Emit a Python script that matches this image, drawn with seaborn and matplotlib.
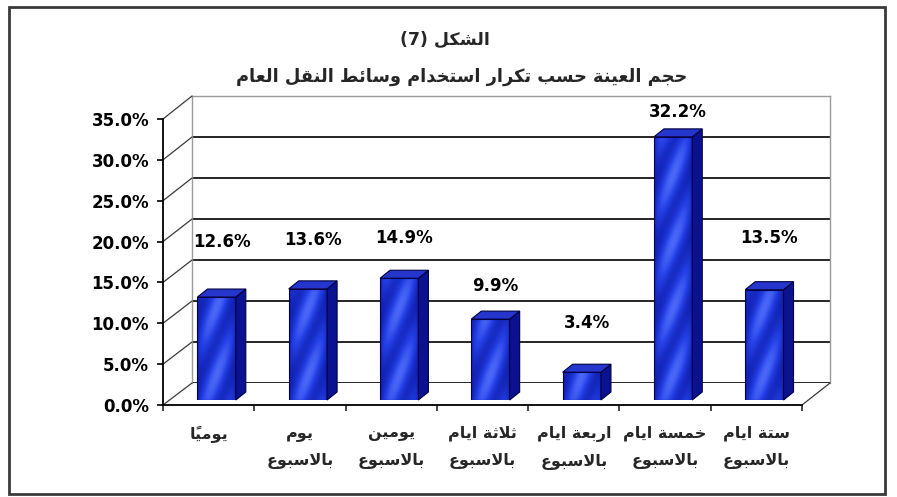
import numpy as np
import pandas as pd
import matplotlib
matplotlib.use('Agg')
import matplotlib.pyplot as plt
import seaborn as sns
from matplotlib.colors import LinearSegmentedColormap
from matplotlib.patches import Polygon, Rectangle
from matplotlib.lines import Line2D

# ---------------------------------------------------------------------------
# data
# ---------------------------------------------------------------------------
CATEGORIES = ['يومياً', 'يوم\nبالاسبوع', 'يومين\nبالاسبوع', 'ثلاثة ايام\nبالاسبوع',
              'اربعة ايام\nبالاسبوع', 'خمسة ايام\nبالاسبوع', 'ستة ايام\nبالاسبوع']
VALUES = [12.6, 13.6, 14.9, 9.9, 3.4, 32.2, 13.5]
Y_TICKS = [0, 5, 10, 15, 20, 25, 30, 35]
TITLE = 'الشكل (7)'
SUBTITLE = 'حجم العينة حسب تكرار استخدام وسائط النقل العام'
LABEL_LIFT_PX = [55, 49, 40, 33, 49, 25, 52]   # where excel put the value labels

W, H = 897, 497

# ---------------------------------------------------------------------------
# tiny arabic shaper (matplotlib has no bidi / joining)
# ---------------------------------------------------------------------------
DUAL = {'\u0626': 0xFE89, '\u0628': 0xFE8F, '\u062A': 0xFE95, '\u062B': 0xFE99,
        '\u062C': 0xFE9D, '\u062D': 0xFEA1, '\u062E': 0xFEA5, '\u0633': 0xFEB1,
        '\u0634': 0xFEB5, '\u0635': 0xFEB9, '\u0636': 0xFEBD, '\u0637': 0xFEC1,
        '\u0638': 0xFEC5, '\u0639': 0xFEC9, '\u063A': 0xFECD, '\u0641': 0xFED1,
        '\u0642': 0xFED5, '\u0643': 0xFED9, '\u0644': 0xFEDD, '\u0645': 0xFEE1,
        '\u0646': 0xFEE5, '\u0647': 0xFEE9, '\u064A': 0xFEF1}
RIGHT = {'\u0622': 0xFE81, '\u0623': 0xFE83, '\u0624': 0xFE85, '\u0625': 0xFE87,
         '\u0627': 0xFE8D, '\u0629': 0xFE93, '\u062F': 0xFEA9, '\u0630': 0xFEAB,
         '\u0631': 0xFEAD, '\u0632': 0xFEAF, '\u0648': 0xFEED, '\u0649': 0xFEEF}
LAM_ALEF = {'\u0622': 0xFEF5, '\u0623': 0xFEF7, '\u0625': 0xFEF9, '\u0627': 0xFEFB}


def is_mark(ch):
    return '\u064B' <= ch <= '\u0652'


def shape_word(word):
    units = []   # [kind, base code, marks]
    chars = list(word)
    i = 0
    while i < len(chars):
        ch = chars[i]
        if is_mark(ch) and units:
            units[-1][2] += ch
        elif ch == '\u0644' and i + 1 < len(chars) and chars[i + 1] in LAM_ALEF:
            units.append(['R', LAM_ALEF[chars[i + 1]], ''])
            i += 1
        elif ch in DUAL:
            units.append(['D', DUAL[ch], ''])
        elif ch in RIGHT:
            units.append(['R', RIGHT[ch], ''])
        else:
            units.append(['U', ch, ''])
        i += 1

    glyphs = []
    for k, (kind, base, marks) in enumerate(units):
        prev_d = k > 0 and units[k - 1][0] == 'D'
        next_j = k + 1 < len(units) and units[k + 1][0] in ('D', 'R')
        if kind == 'D':
            idx = {(False, False): 0, (True, False): 1, (False, True): 2, (True, True): 3}[(prev_d, next_j)]
            glyphs.append(chr(base + idx) + marks)
        elif kind == 'R':
            glyphs.append(chr(base + (1 if prev_d else 0)) + marks)
        else:
            glyphs.append(base + marks)
    return ''.join(reversed(glyphs))


def ar(text):
    out = []
    for line in text.split('\n'):
        toks = [shape_word(t) if any('\u0600' <= c <= '\u06FF' for c in t) else t
                for t in line.split(' ')]
        out.append(' '.join(reversed(toks)))
    return '\n'.join(out)


def box(x0, y0, x1, y1):
    return [x0 / W, 1 - y1 / H, (x1 - x0) / W, (y1 - y0) / H]


# ---------------------------------------------------------------------------
# figure
# ---------------------------------------------------------------------------
sns.set_theme(style='white')
plt.rcParams['font.family'] = ['DejaVu Sans']
plt.rcParams['font.weight'] = 'bold'

fig = plt.figure(figsize=(W / 100, H / 100), dpi=100)
fig.patch.set_facecolor('white')

ax_back = fig.add_axes(box(192, 96, 830, 383), zorder=0)
ax = fig.add_axes(box(163, 119, 802, 405), zorder=1)
ax_bar = fig.add_axes(box(171, 114, 810, 400), zorder=2)

# back wall with gridlines
ax_back.set_xlim(0, 1)
ax_back.set_ylim(0, 35)
for v in Y_TICKS[:-1]:
    ax_back.axhline(v, color='#151515', lw=1.3)
for s in ['left', 'right', 'top']:
    ax_back.spines[s].set_color('#9a9a9a')
    ax_back.spines[s].set_linewidth(1.0)
ax_back.spines['bottom'].set_visible(False)
ax_back.set_xticks([]); ax_back.set_yticks([])
ax_back.set_facecolor('white')

# front axis frame
ax.set_facecolor('none')
ax.set_xlim(-0.5, len(CATEGORIES) - 0.5)
ax.set_ylim(0, 35)
for s in ['top', 'right']:
    ax.spines[s].set_visible(False)
for s in ['left', 'bottom']:
    ax.spines[s].set_color('black'); ax.spines[s].set_linewidth(1.3)
ax.set_yticks(Y_TICKS)
ax.set_yticklabels([f'{v:.1f}%' for v in Y_TICKS], fontsize=12, fontweight='bold')
ax.set_xticks(range(len(CATEGORIES)))
ax.set_xticklabels([ar(c) for c in CATEGORIES], fontsize=11.5, fontweight='bold', linespacing=2.0)
ax.set_xticks(np.arange(-0.5, len(CATEGORIES)), minor=True)
ax.tick_params(axis='y', direction='out', length=4, width=1.2, pad=6, colors='black', left=True)
ax.tick_params(axis='x', which='major', length=0, pad=15)
ax.tick_params(axis='x', which='minor', direction='out', length=4, width=1.2, bottom=True)

# perspective lines joining front axis and back wall
to_fig = fig.transFigure.inverted()
for v in Y_TICKS:
    p0 = to_fig.transform(ax.transAxes.transform((0, v / 35)))
    p1 = to_fig.transform(ax_back.transAxes.transform((0, v / 35)))
    fig.add_artist(Line2D([p0[0], p1[0]], [p0[1], p1[1]], color='#3a3a3a', lw=0.9, zorder=0.5))
p0 = to_fig.transform(ax.transAxes.transform((1, 0)))
p1 = to_fig.transform(ax_back.transAxes.transform((1, 0)))
fig.add_artist(Line2D([p0[0], p1[0]], [p0[1], p1[1]], color='#3a3a3a', lw=0.9, zorder=0.5))

# bars
df = pd.DataFrame({'cat': CATEGORIES, 'pct': VALUES})
sns.barplot(data=df, x='cat', y='pct', ax=ax_bar, color='#1626c0', width=0.42,
            edgecolor='#000050', linewidth=0.8)
ax_bar.set_xlim(-0.5, len(CATEGORIES) - 0.5)
ax_bar.set_ylim(0, 35)
ax_bar.axis('off')

bb = ax_bar.get_window_extent()
sx = bb.width / len(CATEGORIES)
sy = bb.height / 35
dx, dy = 10 / sx, 8 / sy

cmap = LinearSegmentedColormap.from_list('bar', ['#00005e', '#1020b0', '#2440e6', '#5a78ff'])
for p, val, lift in zip(ax_bar.patches, VALUES, LABEL_LIFT_PX):
    x0, w, h = p.get_x(), p.get_width(), p.get_height()
    wp, hp = max(int(w * sx), 2), max(int(h * sy), 2)
    yy, xx = np.mgrid[0:hp, 0:wp]
    u = xx / (wp - 1)
    body = np.sin(np.pi * u) ** 0.5
    streak = np.sin(2 * np.pi * (xx - 0.45 * yy) / 30.0)
    img = np.clip(0.3 + 0.38 * body + 0.22 * streak * body, 0, 1)
    im = ax_bar.imshow(img, extent=(x0, x0 + w, 0, h), origin='lower', cmap=cmap,
                       vmin=0, vmax=1, aspect='auto', interpolation='bilinear', zorder=2)
    im.set_clip_path(p)
    p.set_facecolor('none')
    p.set_zorder(3)
    side = Polygon([(x0 + w, 0), (x0 + w, h), (x0 + w + dx, h + dy), (x0 + w + dx, dy)],
                   closed=True, fc='#0b1290', ec='#000040', lw=0.8, zorder=3, clip_on=False)
    top = Polygon([(x0, h), (x0 + w, h), (x0 + w + dx, h + dy), (x0 + dx, h + dy)],
                  closed=True, fc='#2536cc', ec='#000040', lw=0.8, zorder=3, clip_on=False)
    ax_bar.add_patch(side)
    ax_bar.add_patch(top)
    ax_bar.annotate(f'{val:.1f}%', xy=(x0 + w / 2 + dx / 2, val), xytext=(0, lift * 0.72),
                    textcoords='offset points', ha='center', va='center',
                    fontsize=12, fontweight='bold', color='black', annotation_clip=False)
ax_bar.set_xlim(-0.5, len(CATEGORIES) - 0.5)
ax_bar.set_ylim(0, 35)

# titles
fig.text(445 / W, 1 - 40 / H, ar(TITLE), ha='center', va='center', fontsize=12.5, fontweight='bold')
fig.text(462 / W, 1 - 77 / H, ar(SUBTITLE), ha='center', va='center', fontsize=12.8, fontweight='bold')

# outer frame
fig.add_artist(Rectangle((9 / W, 1 - 494 / H), (885 - 9) / W, (494 - 7) / H,
                         transform=fig.transFigure, fill=False, ec='#3a3a3a', lw=2, zorder=5))

fig.savefig('out.png', dpi=100)
